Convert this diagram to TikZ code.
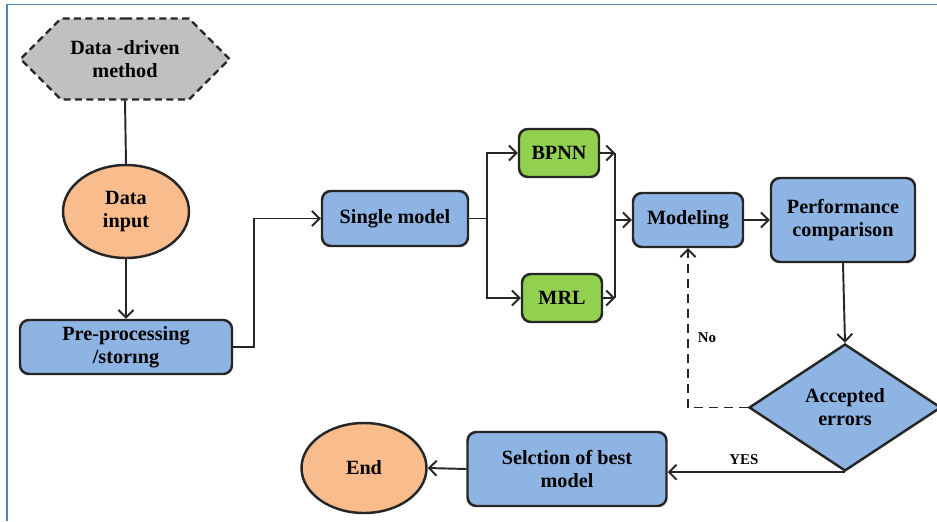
\documentclass[tikz,border=0pt]{standalone}
\usepackage{fontspec}
\setmainfont{Liberation Serif}[BoldFont={Liberation Serif Bold}]
\usetikzlibrary{shapes.geometric,shapes.symbols,arrows.meta}

\definecolor{procblue}{HTML}{8EB4E3}
\definecolor{algogreen}{HTML}{92D050}
\definecolor{termpeach}{HTML}{F9BC8C}
\definecolor{srcgray}{HTML}{C0C0C0}
\definecolor{framebl}{HTML}{4F81BD}

\begin{document}
\begin{tikzpicture}[
  font=\rmfamily\bfseries\fontsize{11.5}{13}\selectfont,
  base/.style={draw=black!85, line width=1.4pt, align=center, inner sep=2pt},
  proc/.style={base, rounded corners=5pt, fill=procblue},
  algo/.style={base, rounded corners=5pt, fill=algogreen},
  term/.style={base, ellipse, fill=termpeach},
  src/.style={base, signal, signal to=west and east, signal pointer angle=90,
              inner ysep=12.5pt, fill=srcgray, dashed, dash pattern=on 4pt off 2.5pt},
  test/.style={base, diamond, fill=procblue, inner sep=0pt},
  e/.style={draw=black!85, line width=1.1pt},
  arr/.style={e, -{Straight Barb[length=1.5mm, width=3mm]}},
  lbl/.style={font=\rmfamily\bfseries\fontsize{8.5}{10}\selectfont, inner sep=1pt}
]
\useasboundingbox (0,0) rectangle (18.74,-10.42);

% frame
\draw[framebl, line width=1.1pt] (0.14,-10.42) -- (0.14,-0.09) -- (18.74,-0.09);

% left column
\node[src, minimum width=4.18cm] (dm) at (2.50,-1.18) {Data -driven\\method};
\node[term, minimum width=2.52cm, minimum height=1.86cm] (din) at (2.52,-4.23) {Data\\input};
\node[proc, minimum width=4.24cm, minimum height=1.08cm] (pre) at (2.52,-6.94) {Pre-processing\\/storıng};

% models
\node[proc, minimum width=2.92cm, minimum height=1.10cm] (single) at (7.90,-4.37) {Single model};
\node[algo, minimum width=1.60cm, minimum height=0.96cm] (bpnn) at (11.18,-3.06) {BPNN};
\node[algo, minimum width=1.60cm, minimum height=0.96cm] (mrl) at (11.24,-5.96) {MRL};
\node[proc, minimum width=2.20cm, minimum height=1.08cm] (model) at (13.76,-4.40) {Modeling};
\node[proc, minimum width=2.88cm, minimum height=1.68cm] (perf) at (16.86,-4.40) {Performance\\comparison};

% decision and end
\node[test, minimum width=3.84cm, minimum height=2.54cm] (acc) at (16.90,-8.15) {Accepted\\errors};
\node[proc, minimum width=3.98cm, minimum height=1.48cm] (sel) at (11.34,-9.38) {Selction of best\\model};
\node[term, minimum width=2.50cm, minimum height=1.80cm] (end) at (7.28,-9.36) {End};

\coordinate (split) at (9.74,-4.37);
\coordinate (join) at (12.30,-4.40);

\draw[e] (dm.south) -- (din.north);
\draw[arr] (din.south) -- (pre.north);
\draw[arr] (pre.east) -- ++(0.42,0) |- (single.west);
\draw[e] (single.east) -- (split);
\draw[arr] (split) |- (bpnn.west);
\draw[arr] (split) |- (mrl.west);
\draw[arr] (bpnn.east) -- (bpnn.east -| join);
\draw[arr] (mrl.east) -- (mrl.east -| join);
\draw[e] (bpnn.east -| join) -- (mrl.east -| join);
\draw[arr] (join) -- (model.west);
\draw[arr] (model.east) -- (perf.west);
\draw[arr] (perf.south) -- (acc.north);
\draw[arr, dashed, dash pattern=on 5pt off 3.5pt] (acc.west) -| (model.south)
  node[lbl, pos=0.72, right=4pt] (no) {No};
\draw[arr] (acc.south) -- (acc.south -| sel.east)
  node[lbl, pos=0.57, above=3pt] (yes) {YES};
\draw[arr] (sel.west) -- (end.east);
\end{tikzpicture}
\end{document}
